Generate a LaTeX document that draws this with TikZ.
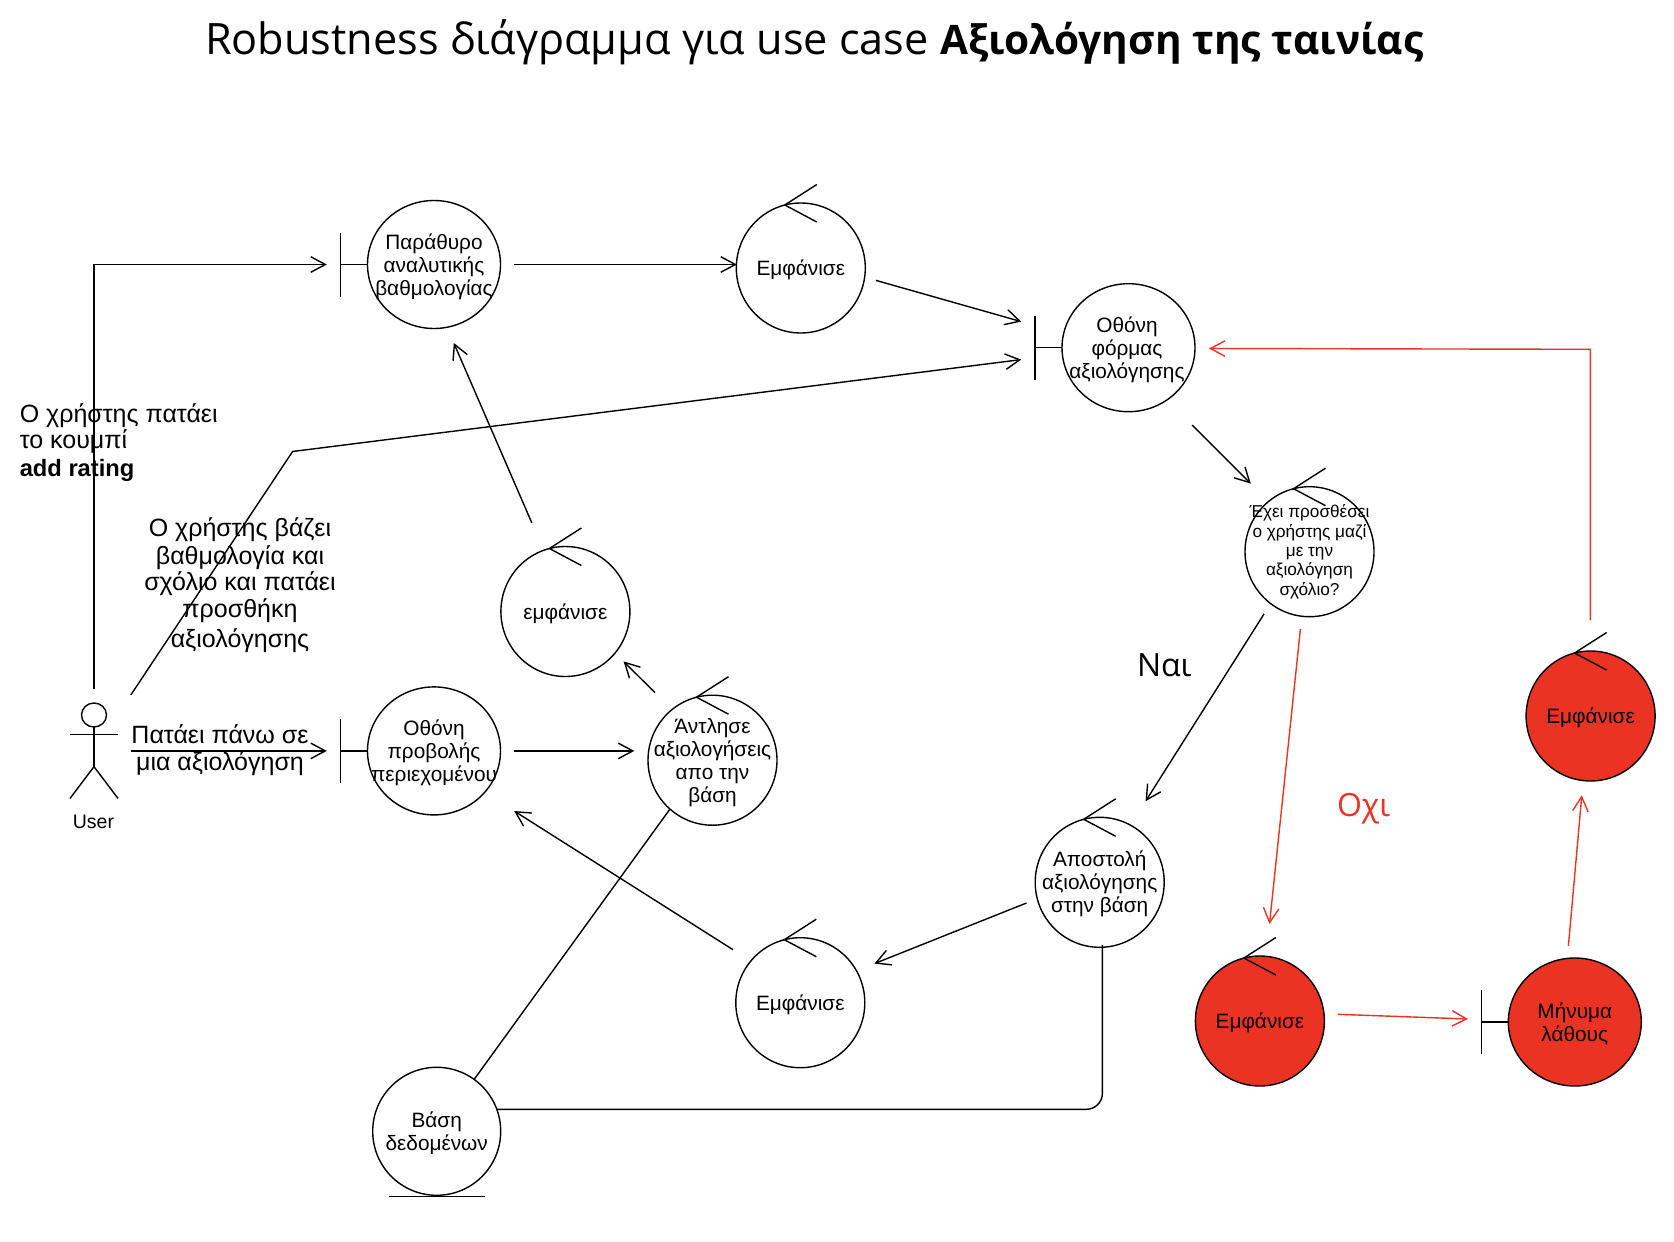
\documentclass[tikz,border=0pt]{standalone}
\usepackage{fontspec}
\setmainfont{Liberation Sans}
\newfontfamily\titlefont{Open Sans}
\usetikzlibrary{arrows.meta,shapes.geometric}
\definecolor{errred}{HTML}{EB3323}
\tikzset{
  every node/.style={inner sep=0pt,outer sep=0pt},
  lw/.style={line width=1.4pt},
  circ/.style={draw,lw,ellipse,minimum width=129pt,minimum height=130pt,fill=white},
  bcirc/.style={draw,lw,ellipse,minimum width=133pt,minimum height=128pt,fill=white},
  redfill/.style={fill=errred},
  inlab/.style={align=center,yshift=-2pt,font=\fontsize{20.8}{23}\selectfont},
  smalllab/.style={align=center,font=\fontsize{17.2}{19.3}\selectfont},
  freelab/.style={font=\fontsize{25}{27}\selectfont},
  opensans/.style={font=\titlefont\fontsize{32}{38}\selectfont},
  arr/.style={lw,-{Straight Barb[length=14.5pt,width=15.5pt,line width=1.4pt]}},
  conn/.style={lw},
  redarr/.style={arr,draw=errred},
}
\newcommand{\ctlmark}[1]{\draw[lw] ([shift={(16,-83.5)}]#1.center) -- ([shift={(-16,-63)}]#1.center) -- ([shift={(16,-46)}]#1.center);}
\newcommand{\bndmark}[1]{\draw[lw] ([shift={(-93.5,-32)}]#1.center) -- ([shift={(-93.5,32)}]#1.center); \draw[lw] ([shift={(-93.5,0)}]#1.center) -- (#1.west);}
\begin{document}
\begin{tikzpicture}[x=1pt,y=-1pt]
\useasboundingbox (0,0) rectangle (1674,1242);
\fill[white] (0,0) rectangle (1674,1242);
% title
\node[anchor=base west,font=\titlefont\fontsize{43.25}{48}\selectfont] (title) at (205,54) {Robustness διάγραμμα για use case {\fontsize{40.6}{48}\selectfont\textbf{Αξιολόγηση της ταινίας}}};
% boundaries
\node[bcirc,label={[inlab]center:Παράθυρο\\αναλυτικής\\βαθμολογίας}] (b1) at (434,264.5) {};
\bndmark{b1}
\node[bcirc,label={[inlab,xshift=-1.5pt]center:Οθόνη\\φόρμας\\αξιολόγησης}] (b2) at (1128.5,347.7) {};
\bndmark{b2}
\node[bcirc,label={[inlab]center:Οθόνη\\προβολής\\περιεχομένου}] (b3) at (434,750.9) {};
\bndmark{b3}
\node[bcirc,redfill,label={[inlab]center:Μήνυμα\\λάθους}] (b4) at (1574.8,1022) {};
\bndmark{b4}
% controllers
\node[circ,label={[inlab]center:Εμφάνισε}] (c1) at (800.8,268) {};
\ctlmark{c1}
\node[circ,label={[inlab]center:εμφάνισε}] (c2) at (565.4,611.5) {};
\ctlmark{c2}
\node[circ,label={[inlab]center:Άντλησε\\αξιολογήσεις\\απο την\\βάση}] (c3) at (712.5,760.2) {};
\ctlmark{c3}
\node[circ,label={[inlab]center:Εμφάνισε}] (c4) at (800.3,1002.7) {};
\ctlmark{c4}
\node[circ,label={[inlab]center:Αποστολή\\αξιολόγησης\\στην βάση}] (c5) at (1099.7,882.3) {};
\ctlmark{c5}
\node[circ,label={[smalllab]center:Έχει προσθέσει\\ο χρήστης μαζί\\με την\\αξιολόγηση\\σχόλιο?}] (c6) at (1309.5,551.7) {};
\ctlmark{c6}
\node[circ,redfill,label={[inlab]center:Εμφάνισε}] (c7) at (1590.6,716) {};
\ctlmark{c7}
\node[circ,redfill,label={[inlab]center:Εμφάνισε}] (c8) at (1259.9,1021) {};
\ctlmark{c8}
% entity
\node[circ,minimum width=128pt,minimum height=128pt,label={[inlab]center:Βάση\\δεδομένων}] (db) at (436.7,1131.3) {};
\draw[lw] ([xshift=-48pt,yshift=-1pt]db.south) -- ([xshift=48pt,yshift=-1pt]db.south);
% actor
\node[draw,lw,ellipse,minimum width=25pt,minimum height=24pt] (head) at (94,715) {};
\coordinate (hip) at (94,766.7);
\coordinate (armL) at (70,734.7);
\coordinate (armR) at (118,734.7);
\coordinate (legL) at (70,798.4);
\coordinate (legR) at (118,798.4);
\draw[lw] (head.south) -- (hip);
\draw[lw] (armL) -- (armR);
\draw[lw] (legL) -- (hip) -- (legR);
\node[font=\fontsize{19.5}{22}\selectfont] (user) at (93.5,822) {User};
% connector ends
\coordinate (u1) at (94,689);
\coordinate (u1c) at (94,264.5);
\coordinate (b1in) at (326.8,264.5);
\coordinate (u2) at (130.8,695);
\coordinate (u2c) at (292.6,451.5);
\coordinate (b2inb) at (1021.2,359.6);
\coordinate (u3) at (130.8,750.9);
\coordinate (b3in) at (326.8,750.9);
\coordinate (b1out) at (513.6,264.5);
\coordinate (c1in) at (736.8,264.5);
\coordinate (c1out) at (876,280.4);
\coordinate (b2ina) at (1021.2,321.6);
\coordinate (b2out) at (1192,425);
\coordinate (c6in) at (1250.8,483.6);
\coordinate (c6a) at (1264,614);
\coordinate (c5in) at (1145.6,801.2);
\coordinate (c6b) at (1300.4,629);
\coordinate (c8in) at (1269.5,924);
\coordinate (c8out) at (1337.8,1014.3);
\coordinate (b4in) at (1468,1019);
\coordinate (b4out) at (1568.4,945.8);
\coordinate (c7in) at (1581.8,795.3);
\coordinate (c7out) at (1590.3,620.3);
\coordinate (rc) at (1590.3,349.3);
\coordinate (b2r) at (1209,348.5);
\coordinate (c5a) at (1026.5,903);
\coordinate (c4in) at (874.4,963.6);
\coordinate (c5b) at (1102.4,945);
\coordinate (dbc) at (1102.4,1109.3);
\coordinate (dbr) at (497,1109.3);
\coordinate (dbu) at (474,1079.6);
\coordinate (c3d) at (670,809);
\coordinate (c4out) at (733,949.7);
\coordinate (b3inr) at (514.2,811);
\coordinate (b3out) at (513.6,750.9);
\coordinate (c3in) at (634.3,750.9);
\coordinate (c3out) at (655,692.7);
\coordinate (c2in) at (623.6,661.4);
\coordinate (c2out) at (531.8,522.8);
\coordinate (b1inb) at (453.8,343);
% connectors
\draw[arr] (u1) -- (u1c) -- (b1in);
\draw[arr] (u2) -- (u2c) -- (b2inb);
\draw[arr] (u3) -- (b3in);
\draw[arr] (b1out) -- (c1in);
\draw[arr] (c1out) -- (b2ina);
\draw[arr] (b2out) -- (c6in);
\draw[arr] (c6a) -- (c5in);
\draw[redarr] (c6b) -- (c8in);
\draw[redarr] (c8out) -- (b4in);
\draw[redarr] (b4out) -- (c7in);
\draw[redarr] (c7out) -- (rc) -- (b2r);
\draw[arr] (c5a) -- (c4in);
\draw[conn,rounded corners=16pt] (c5b) -- (dbc) -- (dbr);
\draw[conn] (dbu) -- (c3d);
\draw[arr] (c4out) -- (b3inr);
\draw[arr] (b3out) -- (c3in);
\draw[arr] (c3out) -- (c2in);
\draw[arr] (c2out) -- (b1inb);
% free labels
\node[anchor=west,freelab] (l1a) at (19.8,416) {Ο χρήστης πατάει};
\node[anchor=west,freelab] (l1b) at (19.8,441) {το κουμπί};
\node[anchor=west,font=\fontsize{23.7}{25}\bfseries\selectfont] (l1c) at (19.8,470) {add rating};
\node[freelab] (l2a) at (240,530) {Ο χρήστης βάζει};
\node[freelab] (l2b) at (240,557.4) {βαθμολογία και};
\node[freelab] (l2c) at (240,584) {σχόλιο και πατάει};
\node[freelab] (l2d) at (240,611) {προσθήκη};
\node[freelab] (l2e) at (240,641) {αξιολόγησης};
\node[freelab] (l3a) at (220,733.7) {Πατάει πάνω σε};
\node[freelab] (l3b) at (220,763.8) {μια αξιολόγηση};
\node[anchor=base west,opensans] (nai) at (1137,676.4) {Ναι};
\node[anchor=base west,opensans,text=errred] (ochi) at (1337,816.2) {Οχι};
\end{tikzpicture}
\end{document}
